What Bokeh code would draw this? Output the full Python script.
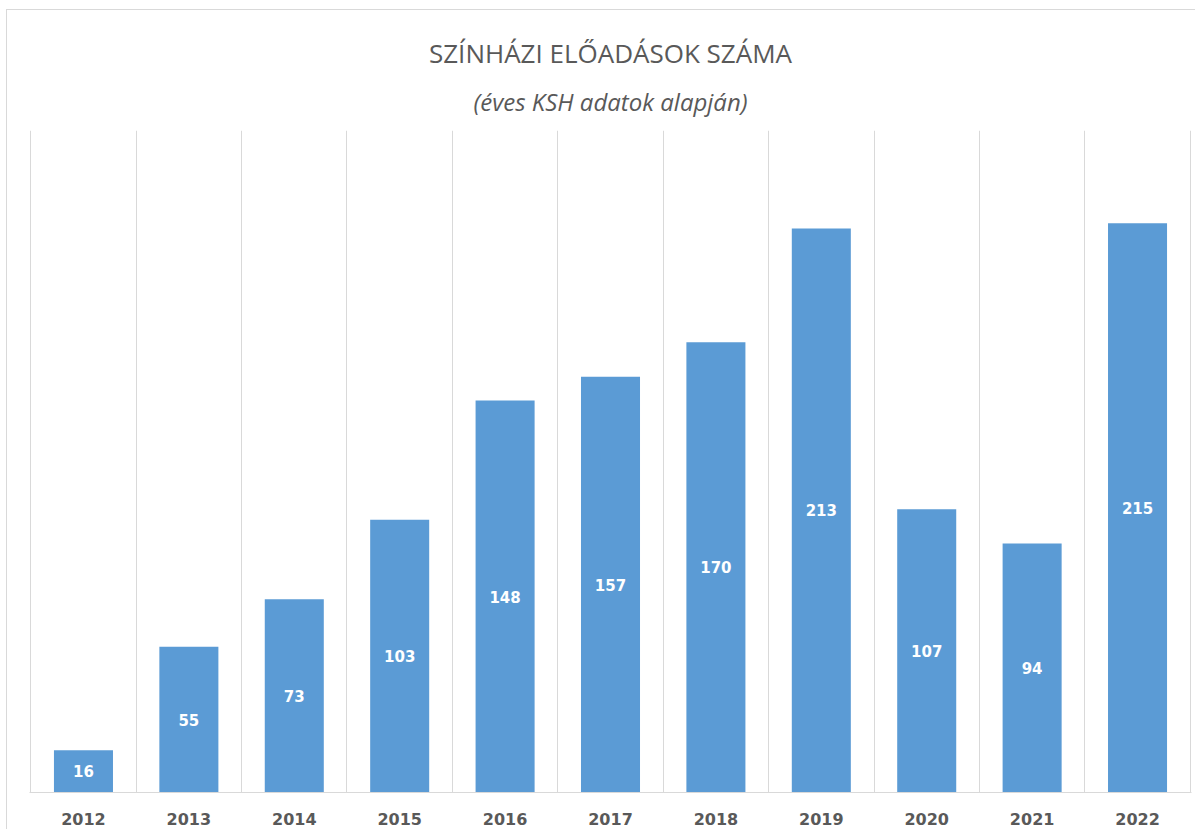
from bokeh.plotting import figure
from bokeh.models import ColumnDataSource, Range1d, FixedTicker, Title, LabelSet, FactorRange
from bokeh.embed import file_html
from bokeh.resources import INLINE
from bokeh.core.properties import value

years = ["2012", "2013", "2014", "2015", "2016", "2017", "2018", "2019", "2020", "2021", "2022"]
counts = [16, 55, 73, 103, 148, 157, 170, 213, 107, 94, 215]
title_text = "SZÍNHÁZI ELŐADÁSOK SZÁMA"
subtitle_text = "(éves KSH adatok alapján)"

BAR = "#5B9BD5"
GRAY = "#595959"
GRID = "#d9d9d9"

src = ColumnDataSource(dict(
    year=years,
    count=counts,
    mid=[c / 2 for c in counts],
    label=[str(c) for c in counts],
))

xr = FactorRange(factors=years, range_padding=0.012, range_padding_units="absolute")

p = figure(
    x_range=xr,
    y_range=Range1d(0, 250),
    width=1189,
    height=820,
    output_backend="svg",
    toolbar_location=None,
    min_border_left=22,
    min_border_right=5,
    min_border_top=120,
    min_border_bottom=38,
    styles={"border-top": "1px solid #d9d9d9", "border-left": "1px solid #d9d9d9",
            "margin-left": "6px", "margin-top": "9px"},
)
p.title.visible = False
p.outline_line_color = None

sub = Title(text=subtitle_text, align="center", text_font="Open Sans",
            text_font_size="24px", text_font_style="italic", text_color=GRAY,
            standoff=25, text_line_height=0.9)
main = Title(text=title_text, align="center", text_font="Open Sans",
             text_font_size="26px", text_font_style="normal", text_color=GRAY,
             standoff=0, text_line_height=0.9)
p.add_layout(sub, "above")
p.add_layout(main, "above")

p.vbar(x="year", top="count", width=0.56, source=src, color=BAR, line_color=None)

labels = LabelSet(x="year", y="mid", text="label", source=src,
                  text_align="center", text_baseline="middle",
                  text_color="white", text_font=value("DejaVu Sans"),
                  text_font_size="15px", text_font_style="bold")
p.add_layout(labels)

p.yaxis.visible = False
p.ygrid.grid_line_color = None
p.xgrid.ticker = FixedTicker(ticks=list(range(len(years) + 1)))
p.xgrid.grid_line_color = GRID
p.xgrid.grid_line_width = 1

p.xaxis.axis_line_color = GRID
p.xaxis.major_tick_line_color = None
p.xaxis.minor_tick_line_color = None
p.xaxis.major_label_standoff = 14
p.xaxis.major_label_text_font = "DejaVu Sans"
p.xaxis.major_label_text_font_size = "16px"
p.xaxis.major_label_text_font_style = "bold"
p.xaxis.major_label_text_color = GRAY

open("out.html", "w").write(file_html(p, INLINE))
